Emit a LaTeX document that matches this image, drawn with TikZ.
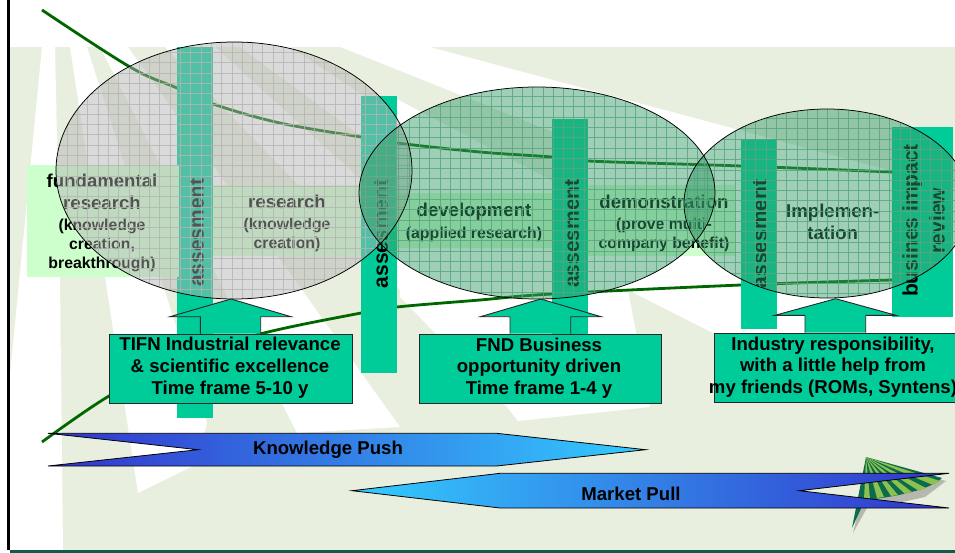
\documentclass[tikz,border=0pt]{standalone}
\usepackage{fontspec}
\setmainfont{Liberation Sans}
\usetikzlibrary{shapes.geometric}
\definecolor{pale}{HTML}{E9EFDF}
\definecolor{teal1}{HTML}{00CC99}
\definecolor{lightbox}{HTML}{CCFFCC}
\definecolor{curvegreen}{HTML}{006600}
\definecolor{pushdark}{HTML}{3333CC}
\definecolor{pushlight}{HTML}{33CCFF}
\definecolor{logodark}{HTML}{0B6B4B}
\definecolor{logolight}{HTML}{8CC050}
\definecolor{gridg}{HTML}{5AA582}
\definecolor{gridk}{HTML}{B4B4B4}
\definecolor{ovalk}{HTML}{B2B2B2}
\definecolor{ovalg}{HTML}{339966}
\definecolor{footer}{HTML}{0F5C4C}
\newcommand{\BigT}{\fontsize{18.6}{21.7}\selectfont\bfseries}
\newcommand{\SmallT}{\fontsize{15.8}{19.2}\selectfont\bfseries}
\newcommand{\BigS}{\fontsize{18.6}{19.2}\selectfont}
\newcommand{\SmallS}{\fontsize{15.8}{19.2}\selectfont}
\newcommand{\BarT}{\fontsize{21}{27}\selectfont\bfseries}
\tikzset{
  x=1pt,y=-1pt,
  rayshape/.style={fill=white,draw=none},
  barshape/.style={fill=teal1,draw=none},
  lightshape/.style={fill=lightbox,draw=none},
  bartext/.style={rotate=90,inner sep=0pt,align=center,font=\BarT,text=black},
  bigtext/.style={inner sep=0pt,align=center,font=\BigT,text=black},
  mixtext/.style={inner sep=0pt,align=center,font=\SmallT,text=black},
  gridgrey/.style={draw=gridk,line width=.5pt,draw opacity=.8},
  gridgreen/.style={draw=gridg,line width=.5pt,draw opacity=.85},
  ovalgrey/.style={fill=ovalk,fill opacity=.47,draw=none},
  ovalgreen/.style={fill=ovalg,fill opacity=.47,draw=none},
  ovaledge/.style={draw=black,line width=.75pt,fill=none},
  curve/.style={draw=curvegreen,line width=2.8pt},
  blockarrow/.style={fill=teal1,draw=black!85,line width=.9pt,line join=miter},
  notebox/.style={fill=teal1,draw=black!85,line width=.9pt},
  flow/.style={draw=black,line width=.8pt,line join=miter}
}
\begin{document}
\begin{tikzpicture}
\useasboundingbox (0,0) rectangle (955,553);
\clip (0,0) rectangle (955,553);
% background
\fill[white] (0,0) rectangle (955,553);
\fill[pale] (10,47) rectangle (955,550);
\fill[rayshape] (42,47) -- (55,47) -- (60,280) -- (63,550) -- (10,550) -- (10,375) -- cycle;
\fill[rayshape] (70,47) -- (87,47) -- (207,423) -- (195,465) -- (138,493) -- cycle;
\fill[rayshape] (100,47) -- (128,47) -- (400,427) -- (297,433) -- cycle;
\fill[rayshape] (165,47) -- (215,47) -- (400,215) -- (400,290) -- cycle;
\fill[rayshape] (240,47) -- (290,47) -- (400,120) -- (400,165) -- cycle;
\fill[rayshape] (340,47) -- (430,47) -- (955,188) -- (955,335) -- (730,342) -- (713,333) -- (628,290) -- (650,407) -- (518,421) -- (507,407) -- (400,297) -- (395,98) -- cycle;
\fill[pale] (340,47) -- (560,135) -- (570,190) -- (395,98) -- cycle;
% logo
\fill[black!60,opacity=.4] (870,462) -- (946,481) -- (925,497) -- (893,504) -- (868,506) -- (853,533) -- cycle;
\fill[logodark] (866,457) -- (942,478) .. controls (930,490) and (895,497) .. (865,500) -- (852,528) -- cycle;
\foreach \ax/\ay/\bx/\by in {940/481/933/485,926/488/919/491,912/492/905/494,898/495/891/496,884/497/877/498,870/499/864/500}{
  \fill[logolight] (866,457) -- (\ax,\ay) -- (\bx,\by) -- cycle;
}
% curves
\draw[curve] plot[smooth,tension=.6] coordinates {(42,10) (130,67) (177,88) (213,104) (280,123) (361,137) (397,143) (480,152) (552,157) (588,161) (741,166) (892,172)};
\draw[curve] plot[smooth,tension=.6] coordinates {(42,442) (109,396) (180,360) (260,334) (361,313) (397,307) (480,300) (552,294) (741,285) (892,280)};
% assessment bars
\fill[barshape] (177,47) rectangle (213,418);
\fill[barshape] (361,96) rectangle (397,373);
\fill[barshape] (552,119) rectangle (588,395);
\fill[barshape] (741,139) rectangle (777,329);
\fill[barshape] (892,127) rectangle (953,317);
\node[bartext] (a1) at (197,232.5) {assesment};
\node[bartext] (a2) at (381,234) {assesment};
\node[bartext] (a3) at (572,233.5) {assesment};
\node[bartext] (a4) at (760,234) {assesment};
\node[bartext] (a5) at (923.5,220.5) {busines impact\\review};
% light boxes behind the phase labels
\fill[lightshape] (27,165) rectangle (179,277);
\fill[lightshape] (213,185) rectangle (361,256);
\fill[lightshape] (397,193) rectangle (552,248);
\fill[lightshape] (588,185) rectangle (735,256);
\node[mixtext] (t1) at (102,223) {\BigS fundamental\\[2.5pt]\BigS research\\[2pt]\SmallS (knowledge\\\SmallS creation,\\\SmallS breakthrough)};
\node[mixtext] (t2) at (287,223.5) {\BigS research\\[1pt]\SmallS (knowledge\\\SmallS creation)};
\node[mixtext] (t3) at (474,222.5) {\BigS development\\[2.5pt]\SmallS (applied research)};
\node[mixtext] (t4) at (664,223.5) {\BigS demonstration\\[1pt]\SmallS (prove multi-\\\SmallS company benefit)};
\node[bigtext] (t5) at (832.7,222) {Implemen-\\tation};
% translucent ovals with their grids
\begin{scope}
  \clip (234,170.5) ellipse [x radius=178,y radius=128.5];
  \fill[ovalgrey] (50,40) rectangle (420,300);
  \foreach \i in {0,...,36}{\draw[gridgrey] (56.7+10.3*\i,40) -- (56.7+10.3*\i,300);}
  \foreach \i in {0,...,26}{\draw[gridgrey] (50,42+10.3*\i) -- (420,42+10.3*\i);}
\end{scope}
\begin{scope}
  \clip (537,193) ellipse [x radius=178,y radius=106];
  \fill[ovalgreen] (355,80) rectangle (720,300);
  \foreach \i in {0,...,36}{\draw[gridgreen] (367.7+10.3*\i,80) -- (367.7+10.3*\i,300);}
  \foreach \i in {0,...,22}{\draw[gridgreen] (355,86+10.3*\i) -- (720,86+10.3*\i);}
\end{scope}
\begin{scope}
  \clip (827,203.5) ellipse [x radius=143,y radius=94.5];
  \fill[ovalgreen] (680,105) rectangle (975,300);
  \foreach \i in {0,...,29}{\draw[gridgreen] (683.5+10.3*\i,105) -- (683.5+10.3*\i,300);}
  \foreach \i in {0,...,19}{\draw[gridgreen] (680,108+10.3*\i) -- (975,108+10.3*\i);}
\end{scope}
\draw[ovaledge] (234,170.5) ellipse [x radius=178,y radius=128.5];
\draw[ovaledge] (537,193) ellipse [x radius=178,y radius=106];
\draw[ovaledge] (827,203.5) ellipse [x radius=143,y radius=94.5];
% block arrows from the note boxes to the ovals
\node[notebox,inner sep=0pt,minimum width=243pt,minimum height=69.6pt] (b1) at (230.5,368.8) {};
\node[notebox,inner sep=0pt,minimum width=242.7pt,minimum height=69.6pt] (b2) at (540.4,368.8) {};
\node[notebox,inner sep=0pt,minimum width=244pt,minimum height=69.7pt] (b3) at (836,367.9) {};
\draw[blockarrow] (b1.north -| 200.3,0) -- (200.3,316.7) -- (170,316.7) -- (231,299) -- (291,316.7) -- (260.7,316.7) -- (b1.north -| 260.7,0);
\draw[blockarrow] (b2.north -| 510,0) -- (510,316.7) -- (480.4,316.7) -- (540.7,299) -- (601,316.7) -- (570.7,316.7) -- (b2.north -| 570.7,0);
\draw[blockarrow] (b3.north -| 805,0) -- (805,315.3) -- (775,315.3) -- (835.7,298.7) -- (896,315.3) -- (865.7,315.3) -- (b3.north -| 865.7,0);
\node[bigtext] (n1) at (230,367.5) {TIFN Industrial relevance\\\& scientific excellence\\Time frame 5-10 y};
\node[bigtext] (n2) at (539,368) {FND Business\\opportunity driven\\Time frame 1-4 y};
\node[bigtext] (n3) at (833,367) {Industry responsibility,\\with a little help from\\my friends (ROMs, Syntens)};
% push and pull arrows
\shade[left color=pushdark,right color=pushlight] (48,433.3) -- (496.7,433.3) -- (645.7,449.7) -- (496.7,466) -- (48,466) -- (198,449.7) -- cycle;
\draw[flow] (48,433.3) -- (496.7,433.3) -- (645.7,449.7) -- (496.7,466) -- (48,466) -- (198,449.7) -- cycle;
\shade[left color=pushlight,right color=pushdark] (352,490.7) -- (500,473.3) -- (949,473.3) -- (799.3,490.7) -- (949,508) -- (500,508) -- cycle;
\draw[flow] (352,490.7) -- (500,473.3) -- (949,473.3) -- (799.3,490.7) -- (949,508) -- (500,508) -- cycle;
\node[bigtext] (k) at (328,449.5) {Knowledge Push};
\node[bigtext] (m) at (631,494) {Market Pull};
% frame
\fill[black] (7.3,0) rectangle (10,550);
\fill[footer] (10,550) rectangle (955,553);
\end{tikzpicture}
\end{document}
